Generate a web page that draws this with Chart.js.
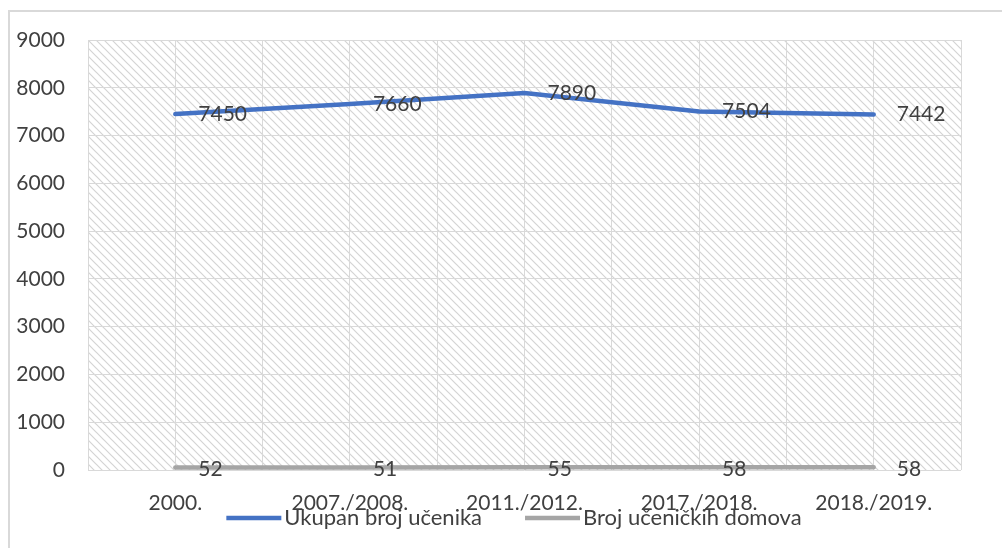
<!DOCTYPE html>
<html>
<head>
<meta charset="utf-8">
<script src="https://cdn.jsdelivr.net/npm/chart.js@4"></script>
<style>
  body { margin:0; background:#fff; }
  #wrap { position:relative; width:1002px; height:548px; }
  #box { position:absolute; left:8px; top:10px; right:-4px; bottom:-4px; border-top:2px solid #d9d9d9; border-left:2px solid #d9d9d9; }
  canvas { position:absolute; left:0; top:0; }
</style>
</head>
<body>
<div id="wrap">
  <div id="box"></div>
  <canvas id="chart" width="1002" height="548"></canvas>
</div>
<script>
const categories = ["2000.", "2007./2008.", "2011./2012.", "2017./2018.", "2018./2019."];
const ucenici = [7450, 7660, 7890, 7504, 7442];
const domovi = [52, 51, 55, 58, 58];
const yTicks = [0, 1000, 2000, 3000, 4000, 5000, 6000, 7000, 8000, 9000];

const FONT = "Lato, 'Open Sans', sans-serif";
const TXT = "#404040";

// hatch pattern for plot area
function makeHatch(){
  const c = document.createElement("canvas");
  c.width = 8; c.height = 8;
  const g = c.getContext("2d");
  g.strokeStyle = "#d4d4d4";
  g.lineWidth = 1.2;
  g.beginPath();
  g.moveTo(-1,-1); g.lineTo(9,9);
  g.moveTo(-1,7); g.lineTo(1,9);
  g.moveTo(7,-1); g.lineTo(9,1);
  g.stroke();
  return c;
}

const hatchPlugin = {
  id: "hatch",
  beforeDraw(chart){
    const {ctx, chartArea:a} = chart;
    ctx.save();
    ctx.fillStyle = ctx.createPattern(makeHatch(), "repeat");
    ctx.fillRect(a.left, a.top, a.right - a.left, a.bottom - a.top);
    ctx.restore();
  }
};

// value labels to the right of each point
const labelPlugin = {
  id: "valueLabels",
  afterDatasetsDraw(chart){
    const ctx = chart.ctx;
    ctx.save();
    ctx.font = "21px " + FONT;
    ctx.fillStyle = TXT;
    ctx.textAlign = "left";
    ctx.textBaseline = "middle";
    chart.data.datasets.forEach((ds, i) => {
      chart.getDatasetMeta(i).data.forEach((pt, j) => {
        ctx.fillText(String(ds.data[j]), pt.x + 23, pt.y + (i === 1 ? 2 : 0));
      });
    });
    ctx.restore();
  }
};

// legend overlapping the bottom labels, like the original
const legendPlugin = {
  id: "legendLine",
  afterDraw(chart){
    const ctx = chart.ctx;
    ctx.save();
    ctx.font = "22px " + FONT;
    ctx.textBaseline = "middle";
    const items = chart.data.datasets.map(ds => ({label: ds.label, color: ds.borderColor, w: ctx.measureText(ds.label).width}));
    const lineLen = 55, gap = 3, between = 43;
    const total = items.reduce((s, it) => s + lineLen + gap + it.w, 0) + between * (items.length - 1);
    let x = 514 - total / 2;
    const y = 518;
    items.forEach(it => {
      ctx.strokeStyle = it.color;
      ctx.lineWidth = 4.5;
      ctx.beginPath();
      ctx.moveTo(x, y); ctx.lineTo(x + lineLen, y);
      ctx.stroke();
      ctx.fillStyle = TXT;
      ctx.fillText(it.label, x + lineLen + gap, y);
      x += lineLen + gap + it.w + between;
    });
    ctx.restore();
  }
};

new Chart(document.getElementById("chart"), {
  type: "line",
  data: {
    labels: categories,
    datasets: [
      {label: "Ukupan broj učenika", data: ucenici, borderColor: "#4472C4", backgroundColor: "#4472C4", borderWidth: 4.5, pointRadius: 0, tension: 0, borderCapStyle: "round"},
      {label: "Broj učeničkih domova", data: domovi, borderColor: "#A5A5A5", backgroundColor: "#A5A5A5", borderWidth: 4.5, pointRadius: 0, tension: 0, borderCapStyle: "round"}
    ]
  },
  options: {
    responsive: false,
    animation: false,
    events: [],
    layout: { padding: { left: 0, right: 41, top: 40, bottom: 34 } },
    plugins: { legend: { display: false }, tooltip: { enabled: false } },
    scales: {
      x: {
        offset: true,
        afterFit(s){ s.height = 44; },
        grid: { display: false },
        border: { display: false },
        ticks: { color: TXT, font: { family: FONT, size: 21 }, padding: 13, maxRotation: 0, autoSkip: false }
      },
      x2: {
        type: "linear",
        position: "top",
        min: 0, max: 10,
        afterFit(s){ s.height = 0; },
        grid: { color: "#d9d9d9", lineWidth: 1, drawTicks: false },
        border: { display: false },
        ticks: { display: false, stepSize: 1 }
      },
      y: {
        min: 0, max: 9000,
        afterBuildTicks(s){ s.ticks = yTicks.map(v => ({value: v})); },
        afterFit(s){ s.width = 88; },
        grid: { color: "#d9d9d9", lineWidth: 1, drawTicks: false },
        border: { display: false },
        ticks: { color: TXT, font: { family: FONT, size: 21 }, padding: 23, callback: v => String(v) }
      }
    }
  },
  plugins: [hatchPlugin, labelPlugin, legendPlugin]
});
</script>
</body>
</html>
